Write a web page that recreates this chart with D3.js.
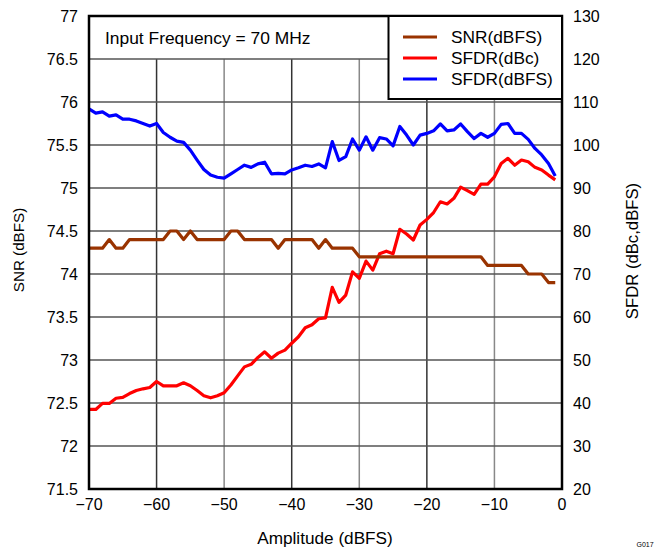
<!DOCTYPE html>
<html><head><meta charset="utf-8">
<script src="https://cdn.jsdelivr.net/npm/d3@7"></script>
<style>body{margin:0;background:#fff}svg{display:block}text{font-family:"Liberation Sans",Arial,sans-serif}</style>
</head><body>
<svg id="c" width="656" height="548"></svg>
<script>
const amplitude = [-70,-69,-68,-67,-66,-65,-64,-63,-62,-61,-60,-59,-58,-57,-56,-55,-54,-53,-52,-51,-50,-49,-48,-47,-46,-45,-44,-43,-42,-41,-40,-39,-38,-37,-36,-35,-34,-33,-32,-31,-30,-29,-28,-27,-26,-25,-24,-23,-22,-21,-20,-19,-18,-17,-16,-15,-14,-13,-12,-11,-10,-9,-8,-7,-6,-5,-4,-3,-2,-1];
const snr = [
  74.3,74.3,74.3,74.4,74.3,74.3,74.4,74.4,74.4,74.4,   // -70..-61
  74.4,74.4,74.5,74.5,74.4,74.5,74.4,74.4,74.4,74.4,   // -60..-51
  74.4,74.5,74.5,74.4,74.4,74.4,74.4,74.4,74.3,74.4,   // -50..-41
  74.4,74.4,74.4,74.4,74.3,74.4,74.3,74.3,74.3,74.3,   // -40..-31
  74.2,74.2,74.2,74.2,74.2,74.2,74.2,74.2,74.2,74.2,   // -30..-21
  74.2,74.2,74.2,74.2,74.2,74.2,74.2,74.2,74.2,74.1,   // -20..-11
  74.1,74.1,74.1,74.1,74.1,74.0,74.0,74.0,73.9,73.9];  // -10..-1
const sfdrDbc = [38.5,38.5,39.9,39.9,41.1,41.3,42.2,42.9,43.3,43.6,45.0,44.0,44.0,44.0,44.7,44.0,42.9,41.7,41.2,41.7,42.4,44.2,46.3,48.4,49.0,50.6,51.9,50.4,51.6,52.3,53.9,55.4,57.5,58.2,59.6,59.8,66.9,63.4,65.1,70.5,69.0,73.0,70.9,74.7,75.3,74.7,80.4,79.3,77.9,81.4,82.7,84.3,86.8,86.3,87.6,90.2,89.4,88.5,90.9,90.9,92.6,95.7,96.9,95.3,96.5,96.1,94.8,94.2,93.0,91.9];
const sfdrDbfs = [108.4,107.4,107.7,106.7,107.0,106.0,106.0,105.6,105.0,104.4,105.0,102.9,101.8,100.9,100.6,98.8,96.5,94.3,93.0,92.5,92.3,93.3,94.3,95.3,94.8,95.6,96.0,93.3,93.4,93.3,94.2,94.7,95.3,95.0,95.6,94.7,100.8,96.4,97.3,101.4,98.8,101.9,98.8,101.7,101.4,99.8,104.3,102.3,100.0,102.3,102.7,103.3,104.9,103.3,103.5,104.9,103.1,101.5,102.7,101.8,102.7,104.8,105.0,102.7,102.7,101.3,99.2,97.7,95.7,92.8];
const xTicks = [-70,-60,-50,-40,-30,-20,-10,0];
const leftTicks = [71.5,72,72.5,73,73.5,74,74.5,75,75.5,76,76.5,77];
const rightTicks = [20,30,40,50,60,70,80,90,100,110,120,130];
const seriesNames = ["SNR(dBFS)","SFDR(dBc)","SFDR(dBFS)"];
const seriesColors = ["#993300","#ff0000","#0000ff"];

const L=89,R=562,T=16,B=489;
const svg=d3.select("#c");
const x=d3.scaleLinear().domain([-70,0]).range([L,R]);
const yL=d3.scaleLinear().domain([71.5,77]).range([B,T]);
const yR=d3.scaleLinear().domain([20,130]).range([B,T]);

// grid (vertical lines stop at the label band under the top edge)
svg.append("g").selectAll("line").data(xTicks.slice(1,-1)).join("line")
  .attr("y1",yL(76.5)).attr("y2",B).attr("x1",d=>x(d)).attr("x2",d=>x(d))
  .attr("stroke",d=>(d%20===0)?"#333":"#888").attr("stroke-width",1.5);
svg.append("g").selectAll("line").data(leftTicks.slice(1,-1)).join("line")
  .attr("x1",L).attr("x2",R).attr("y1",d=>yL(d)).attr("y2",d=>yL(d))
  .attr("stroke","#555").attr("stroke-width",1.5);

// lines
const mk=(ys)=>d3.line().x(d=>x(d[0])).y(d=>ys(d[1]));
const series=[
  {vals:sfdrDbfs, scale:yR, color:seriesColors[2]},
  {vals:sfdrDbc, scale:yR, color:seriesColors[1]},
  {vals:snr, scale:yL, color:seriesColors[0]}
];
series.forEach(s=>{
  svg.append("path").datum(amplitude.map((a,i)=>[a,s.vals[i]])).attr("d",mk(s.scale))
    .attr("fill","none").attr("stroke",s.color).attr("stroke-width",3.2).attr("stroke-linejoin","round");
});

// frame
svg.append("rect").attr("x",L).attr("y",T).attr("width",R-L).attr("height",B-T)
  .attr("fill","none").attr("stroke","#000").attr("stroke-width",2.5);

// axes labels
svg.append("g").selectAll("text").data(leftTicks).join("text")
  .attr("x",L-11).attr("y",d=>yL(d)+5.5).attr("text-anchor","end").attr("font-size",16).text(d=>d);
svg.append("g").selectAll("text").data(rightTicks).join("text")
  .attr("x",R+11).attr("y",d=>yR(d)+5.5).attr("text-anchor","start").attr("font-size",16).text(d=>d);
svg.append("g").selectAll("text").data(xTicks).join("text")
  .attr("x",d=>x(d)).attr("y",B+21).attr("text-anchor","middle").attr("font-size",16).text(d=>d<0?"\u2212"+(-d):d);

svg.append("text").attr("transform",`translate(24,250) rotate(-90)`).attr("text-anchor","middle").attr("font-size",15.2).text("SNR (dBFS)");
svg.append("text").attr("transform",`translate(638,251) rotate(-90)`).attr("text-anchor","middle").attr("font-size",16.7).text("SFDR (dBc,dBFS)");
svg.append("text").attr("x",325).attr("y",543.5).attr("text-anchor","middle").attr("font-size",17.2).text("Amplitude (dBFS)");
svg.append("text").attr("x",645).attr("y",547).attr("text-anchor","middle").attr("font-size",7).text("G017");

svg.append("text").attr("x",105).attr("y",43.5).attr("font-size",17.4).text("Input Frequency = 70 MHz");

// legend
const lg=svg.append("g");
lg.append("rect").attr("x",388.5).attr("y",T).attr("width",R-388.5).attr("height",83).attr("fill","#fff").attr("stroke","#000").attr("stroke-width",2);
seriesNames.forEach((n,i)=>{
  const yy=37+i*21;
  lg.append("line").attr("x1",403).attr("x2",437).attr("y1",yy).attr("y2",yy).attr("stroke",seriesColors[i]).attr("stroke-width",3);
  lg.append("text").attr("x",451).attr("y",yy+6).attr("font-size",17.3).text(n);
});
</script>
</body></html>
